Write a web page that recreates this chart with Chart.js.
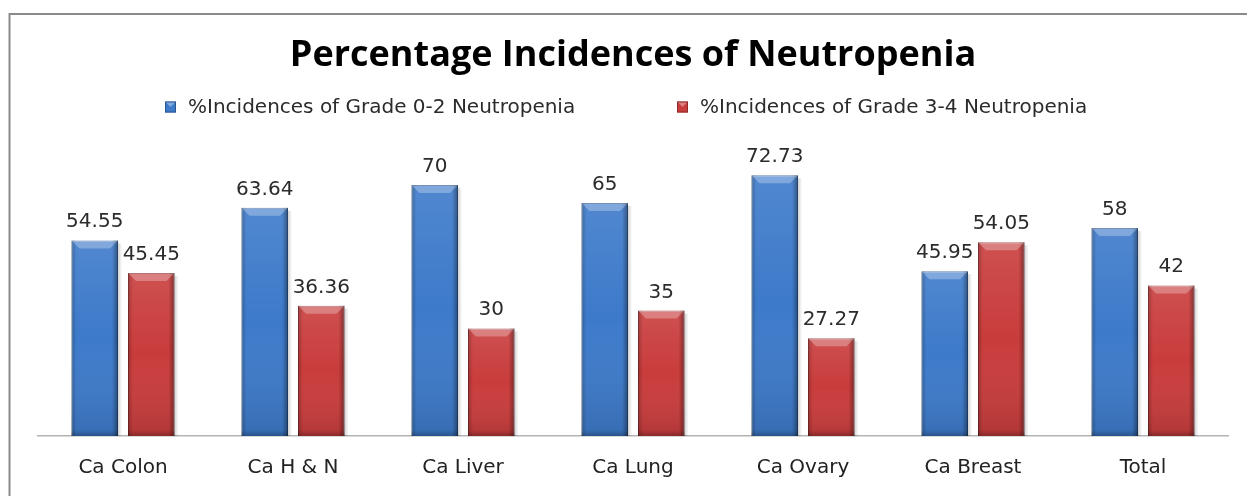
<!DOCTYPE html>
<html>
<head>
<meta charset="utf-8">
<title>Percentage Incidences of Neutropenia</title>
<script src="https://cdn.jsdelivr.net/npm/chart.js"></script>
<style>
    html, body { margin: 0; padding: 0; background: #ffffff; }
    #wrap { width: 1247px; height: 496px; position: relative; }
</style>
</head>
<body>
<div id="wrap"><canvas id="neutropeniaChart" width="1247" height="496"></canvas></div>
<script>
// chart data
const categories = ['Ca Colon', 'Ca H & N', 'Ca Liver', 'Ca Lung', 'Ca Ovary', 'Ca Breast', 'Total'];
const grade02 = [54.55, 63.64, 70, 65, 72.73, 45.95, 58];
const grade34 = [45.45, 36.36, 30, 35, 27.27, 54.05, 42];
const seriesNames = ['%Incidences of Grade 0-2 Neutropenia', '%Incidences of Grade 3-4 Neutropenia'];

const labelFont = '20px "DejaVu Sans", Verdana, sans-serif';
const legendFont = '20px "DejaVu Sans", Verdana, sans-serif';

// outer frame like the excel chart border
const framePlugin = {
    id: 'frame',
    beforeDraw(chart) {
        const ctx = chart.ctx;
        ctx.save();
        ctx.strokeStyle = '#8a8a8a';
        ctx.lineWidth = 2;
        ctx.beginPath();
        ctx.moveTo(9.5, chart.height + 5);
        ctx.lineTo(9.5, 14);
        ctx.lineTo(chart.width + 5, 14);
        ctx.stroke();
        ctx.restore();
    }
};

// soft shadow to the right of each bar
const shadowPlugin = {
    id: 'barShadow',
    beforeDatasetsDraw(chart) {
        const ctx = chart.ctx;
        ctx.save();
        chart.data.datasets.forEach((ds, i) => {
            chart.getDatasetMeta(i).data.forEach(bar => {
                const { x, y, base, width } = bar.getProps(['x', 'y', 'base', 'width'], true);
                const r = x + width / 2;
                const g = ctx.createLinearGradient(r, 0, r + 4, 0);
                g.addColorStop(0, 'rgba(0,0,0,0.18)');
                g.addColorStop(1, 'rgba(0,0,0,0)');
                ctx.fillStyle = g;
                ctx.fillRect(r, y + 3, 4, base - y - 3);
            });
        });
        ctx.restore();
    }
};

// bevel look on each bar
const bevelPlugin = {
    id: 'bevel',
    afterDatasetsDraw(chart) {
        const ctx = chart.ctx;
        ctx.save();
        chart.data.datasets.forEach((ds, i) => {
            chart.getDatasetMeta(i).data.forEach(bar => {
                const { x, y, base, width } = bar.getProps(['x', 'y', 'base', 'width'], true);
                const l = x - width / 2, r = x + width / 2;
                const e = 8;

                // light top, darker bottom
                let g = ctx.createLinearGradient(0, y, 0, base);
                g.addColorStop(0, 'rgba(255,255,255,0.10)');
                g.addColorStop(0.5, 'rgba(255,255,255,0)');
                g.addColorStop(1, 'rgba(0,0,0,0.12)');
                ctx.fillStyle = g;
                ctx.fillRect(l, y, width, base - y);

                g = ctx.createLinearGradient(l, 0, l + 5, 0);
                g.addColorStop(0, 'rgba(0,0,0,0.22)');
                g.addColorStop(1, 'rgba(0,0,0,0)');
                ctx.fillStyle = g;
                ctx.fillRect(l, y, 5, base - y);

                g = ctx.createLinearGradient(r, 0, r - 6, 0);
                g.addColorStop(0, 'rgba(0,0,0,0.38)');
                g.addColorStop(1, 'rgba(0,0,0,0)');
                ctx.fillStyle = g;
                ctx.fillRect(r - 6, y, 6, base - y);

                // top bevel
                ctx.fillStyle = 'rgba(255,255,255,0.28)';
                ctx.beginPath();
                ctx.moveTo(l, y);
                ctx.lineTo(r, y);
                ctx.lineTo(r - e, y + e);
                ctx.lineTo(l + e, y + e);
                ctx.closePath();
                ctx.fill();

                // bottom shade
                g = ctx.createLinearGradient(0, base, 0, base - 6);
                g.addColorStop(0, 'rgba(0,0,0,0.22)');
                g.addColorStop(1, 'rgba(0,0,0,0)');
                ctx.fillStyle = g;
                ctx.fillRect(l, base - 6, width, 6);
            });
        });
        ctx.restore();
    }
};

// value labels above the bars
const valueLabelPlugin = {
    id: 'valueLabels',
    afterDatasetsDraw(chart) {
        const ctx = chart.ctx;
        ctx.save();
        ctx.font = labelFont;
        ctx.fillStyle = '#2b2b2b';
        ctx.textAlign = 'center';
        ctx.textBaseline = 'alphabetic';
        chart.data.datasets.forEach((ds, i) => {
            chart.getDatasetMeta(i).data.forEach((bar, j) => {
                ctx.fillText(String(ds.data[j]), bar.x, bar.y - 13);
            });
        });
        ctx.restore();
    }
};

// legend drawn in the space left under the title
const legendPlugin = {
    id: 'customLegend',
    afterDraw(chart) {
        const ctx = chart.ctx;
        const area = chart.chartArea;
        const mid = (area.left + area.right) / 2;
        const starts = [mid - 468, mid + 44];
        const y = 107;
        ctx.save();
        ctx.font = legendFont;
        ctx.textBaseline = 'middle';
        ctx.textAlign = 'left';
        chart.data.datasets.forEach((ds, i) => {
            const bx = starts[i];
            ctx.fillStyle = ds.backgroundColor;
            ctx.fillRect(bx, y - 5.5, 11, 11);
            ctx.fillStyle = 'rgba(255,255,255,0.35)';
            ctx.beginPath();
            ctx.moveTo(bx, y - 5.5);
            ctx.lineTo(bx + 11, y - 5.5);
            ctx.lineTo(bx + 5.5, y);
            ctx.closePath();
            ctx.fill();
            ctx.strokeStyle = ds.borderColor;
            ctx.lineWidth = 1;
            ctx.strokeRect(bx + 0.5, y - 5, 10, 10);
            ctx.fillStyle = '#2b2b2b';
            ctx.fillText(seriesNames[i], bx + 23, y + 1);
        });
        ctx.restore();
    }
};

const ctx = document.getElementById('neutropeniaChart').getContext('2d');
new Chart(ctx, {
    type: 'bar',
    data: {
        labels: categories,
        datasets: [{
            label: seriesNames[0],
            data: grade02,
            backgroundColor: '#3d7aca',
            borderColor: '#2a5690',
            borderWidth: 1,
            categoryPercentage: 0.665,
            barPercentage: 0.823
        }, {
            label: seriesNames[1],
            data: grade34,
            backgroundColor: '#c93c3c',
            borderColor: '#8c2a2a',
            borderWidth: 1,
            categoryPercentage: 0.665,
            barPercentage: 0.823
        }]
    },
    options: {
        responsive: false,
        animation: false,
        layout: {
            padding: { top: 14, left: 38, right: 19, bottom: -4 }
        },
        plugins: {
            legend: { display: false },
            tooltip: { enabled: false },
            title: {
                display: true,
                text: 'Percentage Incidences of Neutropenia',
                color: '#000000',
                font: { family: '"Open Sans", sans-serif', size: 36, weight: 'bold', lineHeight: 1.2 },
                padding: { top: 20, bottom: 72 }
            }
        },
        scales: {
            x: {
                grid: { display: false, drawTicks: false },
                border: { display: true, color: '#b4b4b4', width: 1.5 },
                ticks: {
                    color: '#222222',
                    font: { family: '"DejaVu Sans", Verdana, sans-serif', size: 20 },
                    padding: 20
                }
            },
            y: {
                display: false,
                min: 0,
                max: 80
            }
        }
    },
    plugins: [framePlugin, shadowPlugin, bevelPlugin, valueLabelPlugin, legendPlugin]
});
</script>
</body>
</html>
